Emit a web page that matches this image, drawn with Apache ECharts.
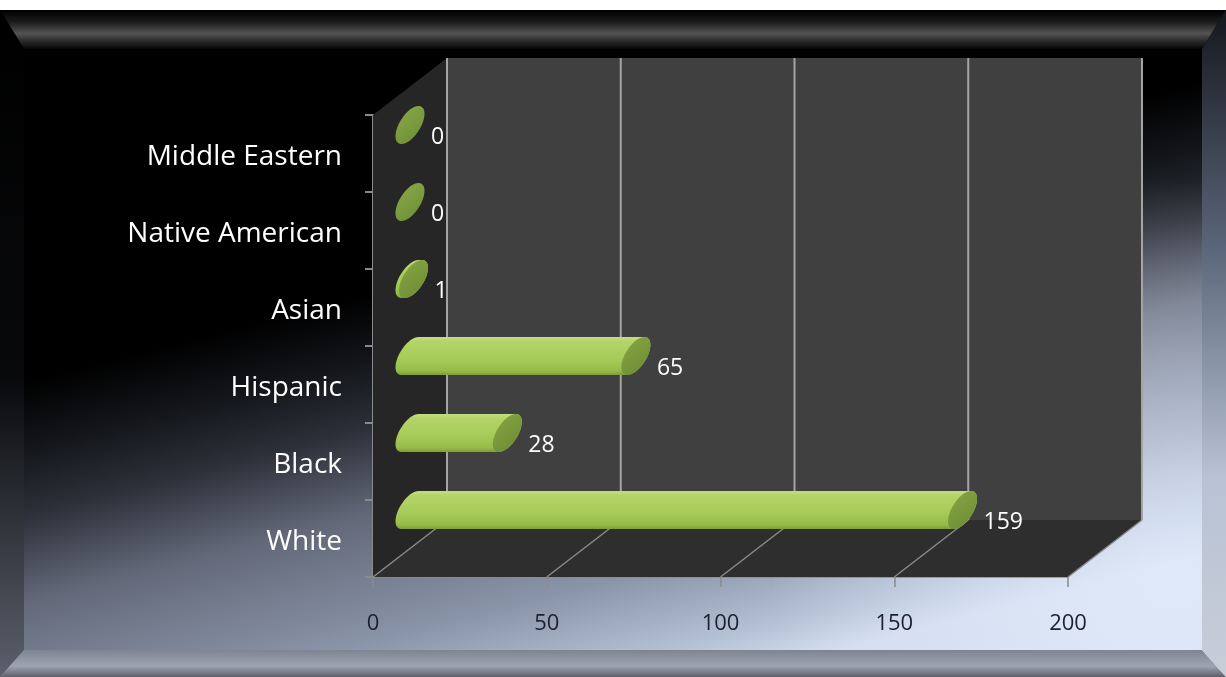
<!DOCTYPE html>
<html>
<head>
<meta charset="utf-8">
<script src="https://cdn.jsdelivr.net/npm/echarts@6/dist/echarts.min.js"></script>
<style>
  html, body { margin: 0; padding: 0; background: #ffffff; }
  #chart { width: 1226px; height: 677px; }
</style>
</head>
<body>
<div id="chart"></div>
<script>
// ---- data ----
const categories = ['White', 'Black', 'Hispanic', 'Asian', 'Native American', 'Middle Eastern'];
const counts = [159, 28, 65, 1, 0, 0];
const xTicks = [0, 50, 100, 150, 200];

// ---- projection / style constants ----
const DX = 74, DY = -57;           // depth of the 3D box
const RA = 15.4, RB = 18.3;        // cylinder radii (vertical, depth)
const UX = 0.792, UY = -0.61;      // unit depth direction
const FONT = '"Open Sans", "Noto Sans", sans-serif';

function ellipsePts(c) {
  const pts = [];
  for (let i = 0; i < 64; i++) {
    const t = i / 64 * Math.PI * 2;
    pts.push([c[0] + RB * UX * Math.sin(t), c[1] - RA * Math.cos(t) + RB * UY * Math.sin(t)]);
  }
  return pts;
}
function hull(points) {
  const p = points.slice().sort((a, b) => a[0] - b[0] || a[1] - b[1]);
  const cross = (o, a, b) => (a[0] - o[0]) * (b[1] - o[1]) - (a[1] - o[1]) * (b[0] - o[0]);
  const lower = [], upper = [];
  for (const q of p) { while (lower.length >= 2 && cross(lower[lower.length - 2], lower[lower.length - 1], q) <= 0) lower.pop(); lower.push(q); }
  for (let i = p.length - 1; i >= 0; i--) { const q = p[i]; while (upper.length >= 2 && cross(upper[upper.length - 2], upper[upper.length - 1], q) <= 0) upper.pop(); upper.push(q); }
  upper.pop(); lower.pop();
  return lower.concat(upper);
}

const chart = echarts.init(document.getElementById('chart'), null, { renderer: 'canvas' });
const W = 1226, H = 677;

function renderBox(params, api) {
  const cs = params.coordSys;
  const L = cs.x, T = cs.y, R = cs.x + cs.width, B = cs.y + cs.height;
  const children = [
    { type: 'polygon', shape: { points: [[L, T], [L + DX, T + DY], [L + DX, B + DY], [L, B]] }, style: { fill: '#262626' } },
    { type: 'polygon', shape: { points: [[L + DX, T + DY], [R + DX, T + DY], [R + DX, B + DY], [L + DX, B + DY]] }, style: { fill: '#404040' } },
    { type: 'polygon', shape: { points: [[L, B], [L + DX, B + DY], [R + DX, B + DY], [R, B]] }, style: { fill: '#2e2e2e' } }
  ];
  xTicks.forEach(v => {
    const x = api.coord([v, 0])[0];
    children.push({ type: 'line', shape: { x1: x + DX, y1: T + DY, x2: x + DX, y2: B + DY }, style: { stroke: '#a4a4a4', lineWidth: 2 } });
    children.push({ type: 'line', shape: { x1: x, y1: B, x2: x + DX, y2: B + DY }, style: { stroke: '#8a8a8a', lineWidth: 1.5 } });
  });
  return { type: 'group', children };
}

function renderBar(params, api) {
  const v = api.value(0), ci = api.value(1);
  const p0 = api.coord([0, ci]), p1 = api.coord([v, ci]);
  const c0 = [p0[0] + DX / 2, p0[1] + DY / 2];
  const c1 = [p1[0] + DX / 2, p1[1] + DY / 2];
  const e0 = ellipsePts(c0), e1 = ellipsePts(c1);
  const children = [];
  if (v > 0) {
    children.push({
      type: 'polygon', shape: { points: hull(e0.concat(e1)) },
      style: { fill: new echarts.graphic.LinearGradient(0, 0, 0, 1, [
        { offset: 0, color: '#c4de80' }, { offset: 0.12, color: '#b5d468' },
        { offset: 0.6, color: '#a6ca58' }, { offset: 0.88, color: '#98bc4a' }, { offset: 1, color: '#7e9e38' }]) }
    });
  }
  children.push({
    type: 'polygon', shape: { points: e1 },
    style: { fill: new echarts.graphic.LinearGradient(0, 0, 1, 1, [
      { offset: 0, color: v > 0 ? '#86a644' : '#8aab4a' }, { offset: 1, color: '#6c8b34' }]) }
  });
  children.push({
    type: 'text', x: c1[0] + 21, y: c1[1] + 12,
    style: { text: String(v), fill: '#ffffff', font: '23px ' + FONT, align: 'left', verticalAlign: 'middle' }
  });
  return { type: 'group', children };
}

const bg = [
  { type: 'rect', shape: { x: 0, y: 0, width: W, height: H }, style: { fill: '#ffffff' }, z: -20 },
  { type: 'rect', shape: { x: 0, y: 10, width: W, height: H - 10 }, z: -19,
    style: { fill: new echarts.graphic.LinearGradient(560, 10, 730, 677, [
      { offset: 0, color: '#000000' }, { offset: 0.33, color: '#000000' }, { offset: 0.42, color: '#121418' },
      { offset: 0.52, color: '#2c3039' }, { offset: 0.64, color: '#626878' }, { offset: 0.82, color: '#8a94a8' },
      { offset: 0.94, color: '#b4c0d4' }, { offset: 1, color: '#d2dcee' }], true) } },
  { type: 'rect', shape: { x: 0, y: 10, width: W, height: H - 10 }, z: -18,
    style: { fill: new echarts.graphic.RadialGradient(1170, 580, 400, [
      { offset: 0, color: 'rgba(226,236,252,0.8)' }, { offset: 1, color: 'rgba(226,236,252,0)' }], true) } },
  // bevels
  { type: 'polygon', shape: { points: [[0, 10], [W, 10], [W - 24, 49], [24, 49]] }, z: -17,
    style: { fill: new echarts.graphic.LinearGradient(0, 0, 0, 1, [
      { offset: 0, color: '#000000' }, { offset: 0.3, color: '#1a1a1a' }, { offset: 0.6, color: '#545454' },
      { offset: 0.8, color: '#2a2a2a' }, { offset: 1, color: '#050505' }]) } },
  { type: 'polygon', shape: { points: [[0, 10], [24, 49], [24, 650], [0, H]] }, z: -17,
    style: { fill: new echarts.graphic.LinearGradient(0, 0, 0, 1, [
      { offset: 0, color: '#000000' }, { offset: 0.55, color: '#08090b' }, { offset: 1, color: '#5a606c' }]) } },
  { type: 'polygon', shape: { points: [[0, H], [24, 650], [W - 24, 650], [W, H]] }, z: -17,
    style: { fill: new echarts.graphic.LinearGradient(0, 0, 0, 1, [
      { offset: 0, color: '#7e8492' }, { offset: 0.6, color: '#9ea4b0' }, { offset: 1, color: '#5c606a' }]) } },
  { type: 'polygon', shape: { points: [[W, 10], [W - 24, 49], [W - 24, 650], [W, H]] }, z: -17,
    style: { fill: new echarts.graphic.LinearGradient(0, 0, 0, 1, [
      { offset: 0, color: '#14171c' }, { offset: 0.35, color: '#5a6478' }, { offset: 0.7, color: '#b8c2d4' }, { offset: 1, color: '#c8ced8' }]) } }
];

chart.setOption({
  animation: false,
  backgroundColor: 'transparent',
  graphic: { elements: bg },
  grid: { left: 373, top: 115, width: 695, height: 462, containLabel: false },
  xAxis: {
    type: 'value', min: 0, max: 200, interval: 50,
    axisLine: { show: true, lineStyle: { color: '#8a8a8a', width: 1.5 } },
    axisTick: { show: true, length: 10, lineStyle: { color: '#8a8a8a', width: 1.5 } },
    splitLine: { show: false },
    axisLabel: { margin: 36, color: '#1c2032', fontSize: 22, fontFamily: FONT }
  },
  yAxis: {
    type: 'category', data: categories,
    axisLine: { show: true, lineStyle: { color: '#8a8a8a', width: 2 } },
    axisTick: { show: true, length: 8, lineStyle: { color: '#8a8a8a', width: 2 } },
    splitLine: { show: false },
    axisLabel: { margin: 31, color: '#ffffff', fontSize: 28, fontFamily: FONT, verticalAlign: 'top', lineHeight: 8 }
  },
  series: [
    { type: 'custom', name: 'box', z: 1, silent: true, renderItem: renderBox, data: [[0, 0]], encode: { x: 0, y: 1 } },
    { type: 'custom', name: 'bars', z: 3, silent: true, renderItem: renderBar,
      data: counts.map((v, i) => [v, i]), encode: { x: 0, y: 1 } }
  ]
});
</script>
</body>
</html>
